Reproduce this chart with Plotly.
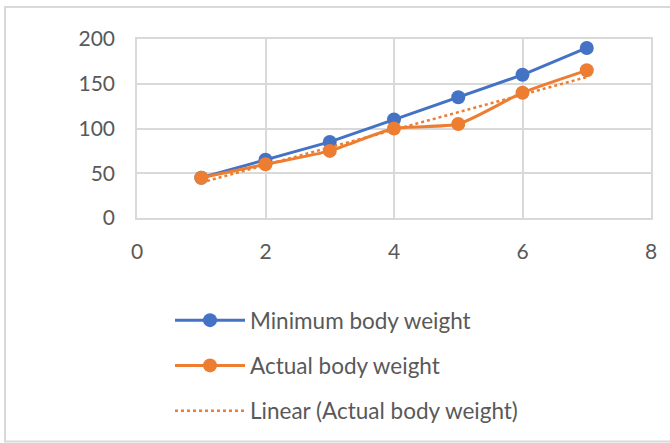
import plotly.graph_objects as go
import numpy as np

# Data
x_vals = [1, 2, 3, 4, 5, 6, 7]
minimum_weight = [45, 65, 85, 110, 135, 160, 190]
actual_weight = [45, 60, 75, 100, 105, 140, 165]
x_ticks = [0, 2, 4, 6, 8]
y_ticks = [0, 50, 100, 150, 200]

# Least-squares linear trend of the actual weight
slope, intercept = np.polyfit(x_vals, actual_weight, 1)
trend = [slope * x + intercept for x in x_vals]

BLUE = "#4472C4"
ORANGE = "#ED7D31"
GRID = "#D9D9D9"
TEXT = "#595959"
FONT = "Lato"

W, H = 670, 443
L, R, T, B = 137, 19, 39, 225
PW, PH = W - L - R, H - T - B


def px_x(p):
    return (p - L) / PW


def px_y(p):
    return (H - B - p) / PH


fig = go.Figure()
fig.add_trace(go.Scatter(
    x=x_vals, y=minimum_weight, name="Minimum body weight",
    mode="lines+markers", legendgroup="a",
    line=dict(color=BLUE, width=3),
    marker=dict(color=BLUE, size=14),
))
fig.add_trace(go.Scatter(
    x=x_vals, y=actual_weight, name="Actual body weight",
    mode="lines+markers", legendgroup="b",
    line=dict(color=ORANGE, width=3, shape="spline", smoothing=0.6),
    marker=dict(color=ORANGE, size=14),
))
fig.add_trace(go.Scatter(
    x=x_vals, y=trend, name="Linear (Actual body weight)",
    mode="lines", legendgroup="c",
    line=dict(color=ORANGE, width=2.5, dash="dot"),
))

axis_common = dict(
    showgrid=True, gridcolor=GRID, gridwidth=1.5,
    showline=True, linecolor=GRID, linewidth=1.5, mirror=True,
    zeroline=False, ticks="",
    tickfont=dict(family=FONT, size=21, color=TEXT),
    fixedrange=True,
)

fig.update_xaxes(range=[0, 8], tickvals=x_ticks, ticklabelstandoff=14, **axis_common)
fig.update_yaxes(range=[0, 200], tickvals=y_ticks, ticklabelstandoff=16, **axis_common)

# Outer chart border
fig.add_shape(
    type="rect", xref="paper", yref="paper",
    x0=px_x(5), x1=px_x(675), y0=px_y(441.5), y1=px_y(7),
    line=dict(color=GRID, width=2), fillcolor="rgba(0,0,0,0)", layer="below",
)

fig.update_layout(
    width=W, height=H,
    margin=dict(l=L, r=R, t=T, b=B, autoexpand=False),
    paper_bgcolor="white", plot_bgcolor="white",
    showlegend=True,
    legend=dict(
        x=px_x(170), y=px_y(299), xanchor="left", yanchor="top",
        traceorder="grouped", tracegroupgap=13,
        font=dict(family=FONT, size=22.5, color=TEXT),
        itemwidth=70, bgcolor="rgba(0,0,0,0)",
    ),
)

fig.write_html("out.html")
